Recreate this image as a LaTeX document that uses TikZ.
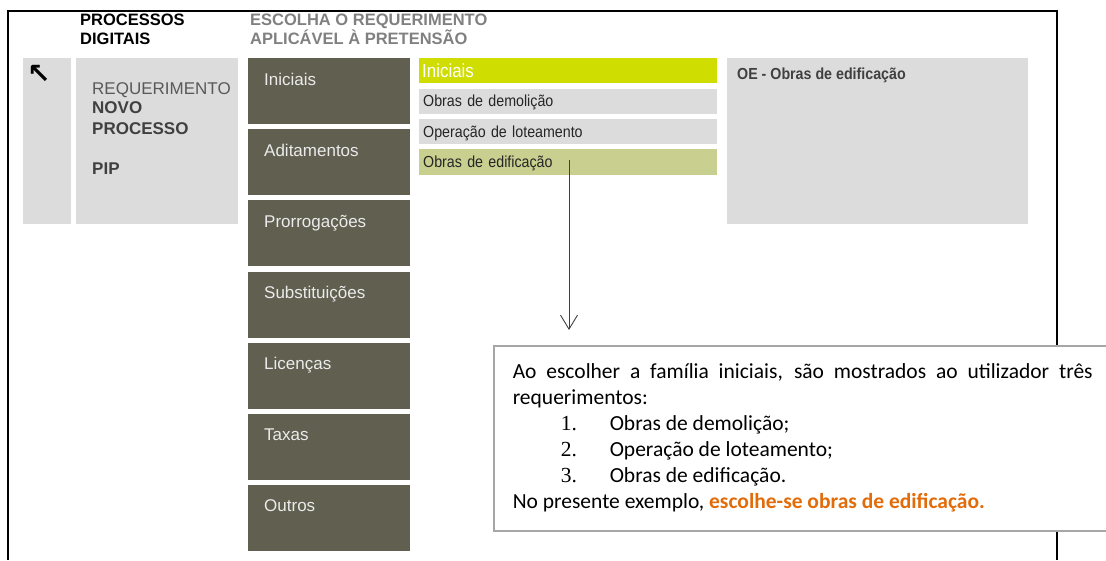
\documentclass[tikz,border=0pt]{standalone}
\usepackage{fontspec}
\setmainfont{Carlito}
\newfontfamily\arial{Liberation Sans}
\newfontfamily\arialn[FakeStretch=0.89]{Liberation Sans}
\newfontfamily\numfont{Liberation Serif}
\newfontfamily\simboli{DejaVu Sans}
\usepackage{xcolor}
\usetikzlibrary{positioning, calc, arrows.meta}
\definecolor{oliva}{RGB}{97,95,80}
\definecolor{grigio}{RGB}{220,220,220}
\definecolor{lime}{RGB}{207,221,0}
\definecolor{olivachiaro}{RGB}{201,207,142}
\definecolor{titolo}{RGB}{128,128,128}
\definecolor{testo}{RGB}{64,64,64}
\definecolor{arancio}{RGB}{227,108,10}
\definecolor{bordo}{RGB}{166,166,166}
\tikzstyle{menu} = [rectangle, anchor=north west, inner xsep=16pt, inner ysep=0pt, text width=130pt, align=left, text height=27pt, text depth=39pt, fill=oliva, text=white!92!black, font=\arial\fontsize{17}{20}\selectfont]
\tikzstyle{voce} = [rectangle, anchor=north west, inner xsep=4pt, inner ysep=0pt, text width=290pt, align=left, text height=18pt, text depth=7pt, fill=grigio, text=black!85, font=\arialn\fontsize{16}{19}\selectfont]
\tikzstyle{pannello} = [rectangle, anchor=north west, inner sep=0pt, minimum height=166pt, fill=grigio]
\tikzstyle{titoletto} = [anchor=base west, inner sep=0pt, align=left, font=\arial\bfseries\fontsize{16.5}{19}\selectfont]
\tikzstyle{riga} = [anchor=base west, inner sep=0pt, text=testo, font=\arial\fontsize{17}{20}\selectfont]
\tikzstyle{nota} = [rectangle, anchor=north west, draw=bordo, line width=1.5pt, fill=white, inner xsep=19pt, inner ysep=0pt, text width=580pt, minimum height=185pt, align=justify, font=\fontsize{21.5}{26}\selectfont]
\tikzstyle{arrow} = [line width=0.9pt, draw=black!75, -{Straight Barb[length=14pt, width=17pt]}]

\begin{document}
\begin{tikzpicture}[x=1pt, y=-1pt]
\useasboundingbox (0,0) rectangle (1106,560);

% cornice
\draw [line width=1.8pt] (8,560) -- (8,11) -- (1057,11) -- (1057,560);

% intestazioni
\node (processi) [titoletto] at (80,44) {PROCESSOS\\DIGITAIS};
\node (scelta) [titoletto, text=titolo] at (250,44) {ESCOLHA O REQUERIMENTO\\APLICÁVEL À PRETENSÃO};

% pannelli a sinistra
\node (freccia) [pannello, minimum width=48pt] at (23,58) {};
\node (su) [anchor=north west, inner sep=0pt, font=\simboli\bfseries\fontsize{28}{28}\selectfont] at ([shift={(4,7)}]freccia.north west) {↖};
\node (requerimento) [pannello, minimum width=162pt] at (76,58) {};
\node (req) [riga, text=black!65] at ([shift={(16,36)}]requerimento.north west) {REQUERIMENTO};
\node (novo) [riga, font=\arial\bfseries\fontsize{17}{20}\selectfont] at ([shift={(16,55)}]requerimento.north west) {NOVO};
\node (processo) [riga, font=\arial\bfseries\fontsize{17}{20}\selectfont] at ([shift={(16,76)}]requerimento.north west) {PROCESSO};
\node (pip) [riga, font=\arial\bfseries\fontsize{17}{20}\selectfont] at ([shift={(16,116)}]requerimento.north west) {PIP};

% famiglie
\node (iniciais) [menu] at (248,58) {Iniciais};
\node (aditamentos) [menu, below=4.7pt of iniciais] {Aditamentos};
\node (prorrogacoes) [menu, below=4.7pt of aditamentos] {Prorrogações};
\node (substituicoes) [menu, below=4.7pt of prorrogacoes] {Substituições};
\node (licencas) [menu, below=4.7pt of substituicoes] {Licenças};
\node (taxas) [menu, below=4.7pt of licencas] {Taxas};
\node (outros) [menu, below=4.7pt of taxas] {Outros};

% requerimenti
\node (barra) [voce, fill=lime, text=white, inner xsep=3pt, text width=292pt, text height=19pt, text depth=6pt, font=\arialn\fontsize{19}{20}\selectfont] at (419,58) {Iniciais};
\node (demolicao) [voce, below=5pt of barra] {Obras de demolição};
\node (loteamento) [voce, below=5pt of demolicao] {Operação de loteamento};
\node (edificacao) [voce, fill=olivachiaro, text depth=8pt, below=5pt of loteamento] {Obras de edificação};

% dettaglio
\node (dettaglio) [pannello, minimum width=301pt] at (727,58) {};
\node (oe) [riga, font=\arialn\bfseries\fontsize{16}{19}\selectfont] at ([shift={(10,21)}]dettaglio.north west) {OE - Obras de edificação};

% nota
\node (spiegazione) [nota] at (493,345) {\parindent=0pt \hyphenpenalty=10000 \exhyphenpenalty=10000
Ao escolher a família iniciais, são mostrados ao utilizador três requerimentos:\par
\hspace*{48pt}\makebox[49pt][l]{\numfont 1.}Obras de demolição;\par
\hspace*{48pt}\makebox[49pt][l]{\numfont 2.}Operação de loteamento;\par
\hspace*{48pt}\makebox[49pt][l]{\numfont 3.}Obras de edificação.\par
No presente exemplo, \textcolor{arancio}{\bfseries escolhe-se obras de edificação.}};

% connessione
\coordinate (partenza) at (569,160);
\draw [arrow, shorten >=15pt] (partenza) -- (partenza |- spiegazione.north);

\end{tikzpicture}
\end{document}
